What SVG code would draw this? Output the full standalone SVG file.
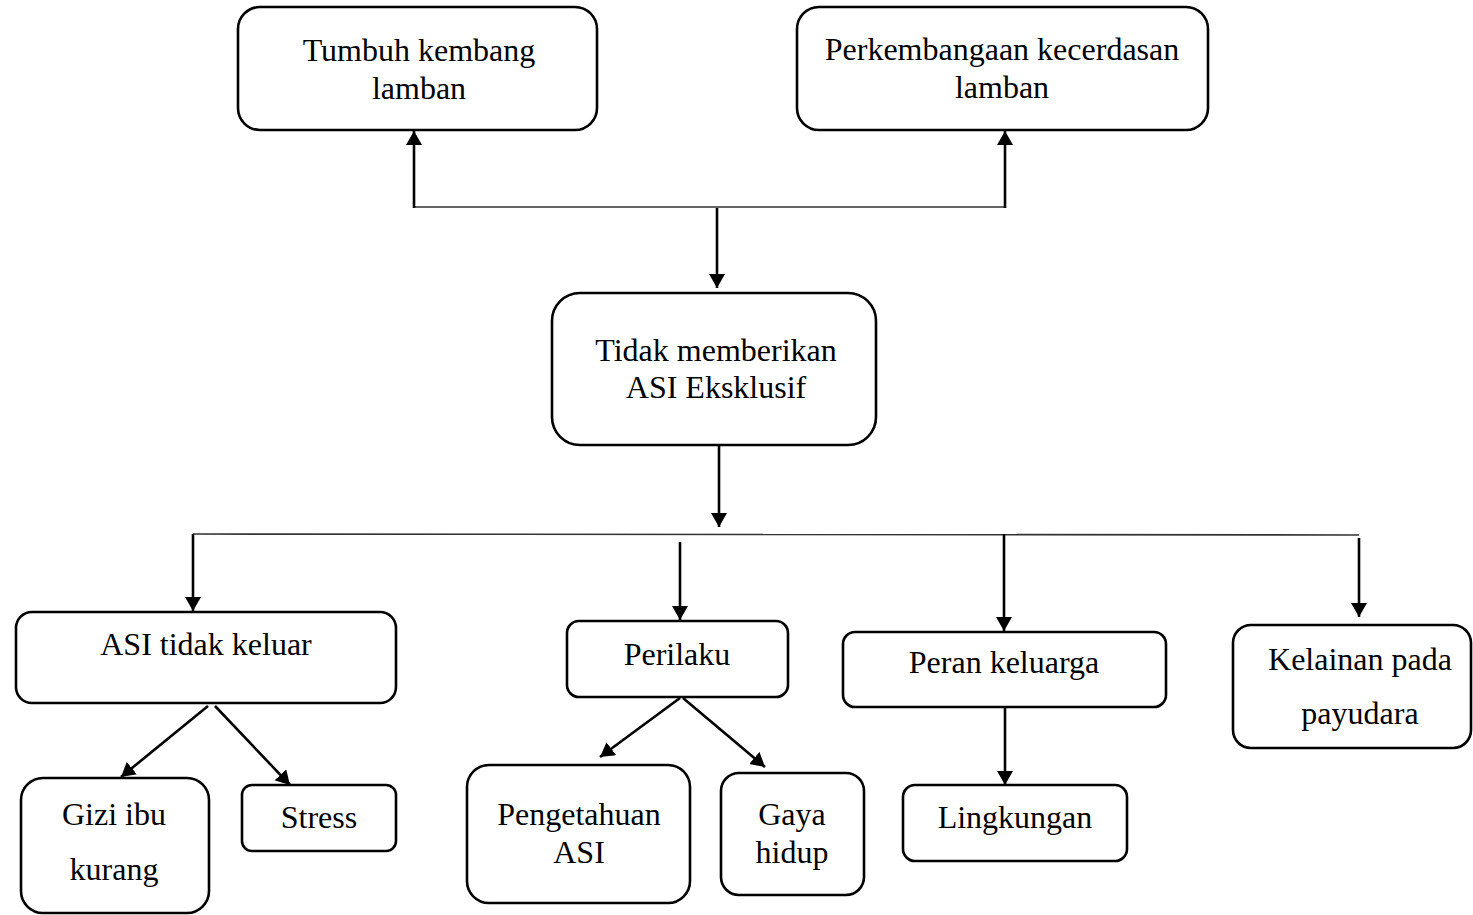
<svg xmlns="http://www.w3.org/2000/svg" width="1473" height="915" viewBox="0 0 1473 915">
<style>
.box{fill:#fff;stroke:#000;stroke-width:2.6}
.t{font-family:"Liberation Serif","Times New Roman",serif;font-size:32px;fill:#000;text-anchor:middle}
.c{fill:none;stroke:#000;stroke-width:2.6}
.bus{fill:none;stroke:#333;stroke-width:1.7}
</style>
<defs>
<marker id="ah" markerWidth="16" markerHeight="16" refX="14" refY="8" orient="auto" markerUnits="userSpaceOnUse">
<path d="M0,0 L14,8 L0,16 z" fill="#000"/>
</marker>
</defs>
<rect width="1473" height="915" fill="#fff"/>
<g id="connectors">
<path class="bus" d="M413,207 L1005,207"/>
<path class="c" d="M414,208 L414,131" marker-end="url(#ah)"/>
<path class="c" d="M1005,208 L1005,131" marker-end="url(#ah)"/>
<path class="c" d="M717,208 L717,288" marker-end="url(#ah)"/>
<path class="c" d="M719,446 L719,527" marker-end="url(#ah)"/>
<path class="bus" d="M193,534 L1359,535"/>
<path class="c" d="M193,534 L193,611" marker-end="url(#ah)"/>
<path class="c" d="M680,542 L680,620" marker-end="url(#ah)"/>
<path class="c" d="M1004,534 L1004,631" marker-end="url(#ah)"/>
<path class="c" d="M1359,538 L1359,617" marker-end="url(#ah)"/>
<path class="c" d="M208,706 L121,777" marker-end="url(#ah)"/>
<path class="c" d="M215,706 L290,785" marker-end="url(#ah)"/>
<path class="c" d="M680,698 L600,757" marker-end="url(#ah)"/>
<path class="c" d="M683,698 L765,767" marker-end="url(#ah)"/>
<path class="c" d="M1005,707 L1005,785" marker-end="url(#ah)"/>
</g>
<g id="n1"><rect class="box" x="238" y="7" width="359" height="123" rx="22"/><text class="t" x="419" y="61">Tumbuh kembang</text><text class="t" x="419" y="99">lamban</text></g>
<g id="n2"><rect class="box" x="797" y="7" width="411" height="123" rx="22"/><text class="t" x="1002" y="60">Perkembangaan kecerdasan</text><text class="t" x="1002" y="98">lamban</text></g>
<g id="n3"><rect class="box" x="552" y="293" width="324" height="152" rx="28"/><text class="t" x="716" y="361">Tidak memberikan</text><text class="t" x="716" y="398">ASI Eksklusif</text></g>
<g id="n4"><rect class="box" x="16" y="612" width="380" height="91" rx="16"/><text class="t" x="206" y="655">ASI tidak keluar</text></g>
<g id="n5"><rect class="box" x="567" y="621" width="221" height="76" rx="12"/><text class="t" x="677" y="665">Perilaku</text></g>
<g id="n6"><rect class="box" x="843" y="632" width="323" height="75" rx="12"/><text class="t" x="1004" y="673">Peran keluarga</text></g>
<g id="n7"><rect class="box" x="1233" y="625" width="238" height="123" rx="18"/><text class="t" x="1360" y="670">Kelainan pada</text><text class="t" x="1360" y="724">payudara</text></g>
<g id="n8"><rect class="box" x="21" y="778" width="188" height="135" rx="22"/><text class="t" x="114" y="825">Gizi ibu</text><text class="t" x="114" y="880">kurang</text></g>
<g id="n9"><rect class="box" x="242" y="785" width="154" height="66" rx="10"/><text class="t" x="319" y="828">Stress</text></g>
<g id="n10"><rect class="box" x="467" y="765" width="223" height="138" rx="22"/><text class="t" x="579" y="825">Pengetahuan</text><text class="t" x="579" y="863">ASI</text></g>
<g id="n11"><rect class="box" x="721" y="773" width="143" height="122" rx="18"/><text class="t" x="792" y="825">Gaya</text><text class="t" x="792" y="863">hidup</text></g>
<g id="n12"><rect class="box" x="903" y="785" width="224" height="76" rx="12"/><text class="t" x="1015" y="828">Lingkungan</text></g>
</svg>
